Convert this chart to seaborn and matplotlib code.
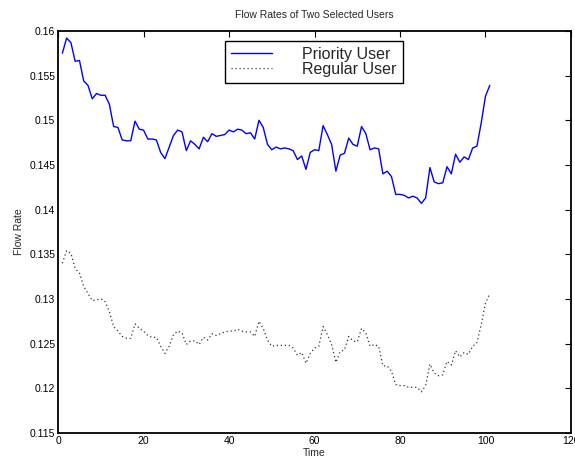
import numpy as np
import pandas as pd
import matplotlib
matplotlib.use("Agg")
import matplotlib.pyplot as plt
import seaborn as sns

# Time steps and flow rates for the two users
time = list(range(1, 102))
priority_user = [
    0.1575, 0.1592, 0.1587, 0.1566, 0.1567, 0.1544, 0.1539, 0.1524, 0.1530, 0.1528,
    0.1528, 0.1518, 0.1493, 0.1492, 0.1478, 0.1477, 0.1477, 0.1499, 0.1490, 0.1489,
    0.1479, 0.1479, 0.1478, 0.1464, 0.1457, 0.1470, 0.1483, 0.1489, 0.1487, 0.1466,
    0.1477, 0.1473, 0.1468, 0.1481, 0.1476, 0.1485, 0.1482, 0.1483, 0.1484, 0.1489,
    0.1487, 0.1490, 0.1489, 0.1485, 0.1486, 0.1479, 0.1500, 0.1492, 0.1473, 0.1467,
    0.1470, 0.1468, 0.1469, 0.1468, 0.1466, 0.1456, 0.1460, 0.1445, 0.1464, 0.1467,
    0.1466, 0.1494, 0.1484, 0.1473, 0.1443, 0.1461, 0.1463, 0.1480, 0.1473, 0.1471,
    0.1493, 0.1485, 0.1467, 0.1469, 0.1468, 0.1440, 0.1443, 0.1437, 0.1417, 0.1417,
    0.1416, 0.1413, 0.1415, 0.1413, 0.1407, 0.1413, 0.1447, 0.1431, 0.1429, 0.1430,
    0.1448, 0.1440, 0.1462, 0.1453, 0.1459, 0.1456, 0.1469, 0.1471, 0.1497, 0.1527,
    0.1539,
]
regular_user = [
    0.1340, 0.1354, 0.1351, 0.1334, 0.1329, 0.1314, 0.1306, 0.1298, 0.1299, 0.1300,
    0.1297, 0.1286, 0.1269, 0.1264, 0.1258, 0.1256, 0.1256, 0.1272, 0.1267, 0.1264,
    0.1259, 0.1257, 0.1257, 0.1247, 0.1239, 0.1247, 0.1260, 0.1264, 0.1262, 0.1249,
    0.1253, 0.1253, 0.1249, 0.1257, 0.1254, 0.1261, 0.1259, 0.1261, 0.1263, 0.1264,
    0.1264, 0.1266, 0.1264, 0.1263, 0.1263, 0.1258, 0.1275, 0.1267, 0.1254, 0.1247,
    0.1248, 0.1248, 0.1248, 0.1248, 0.1245, 0.1237, 0.1240, 0.1228, 0.1239, 0.1245,
    0.1247, 0.1269, 0.1260, 0.1249, 0.1229, 0.1241, 0.1243, 0.1258, 0.1253, 0.1252,
    0.1267, 0.1262, 0.1247, 0.1249, 0.1247, 0.1225, 0.1225, 0.1219, 0.1204, 0.1203,
    0.1203, 0.1201, 0.1201, 0.1201, 0.1196, 0.1203, 0.1227, 0.1217, 0.1214, 0.1215,
    0.1230, 0.1226, 0.1242, 0.1235, 0.1240, 0.1238, 0.1247, 0.1251, 0.1271, 0.1295,
    0.1306,
]
x_ticks = [0, 20, 40, 60, 80, 100, 120]
y_ticks = [0.115, 0.12, 0.125, 0.13, 0.135, 0.14, 0.145, 0.15, 0.155, 0.16]
y_tick_labels = ["0.115", "0.12", "0.125", "0.13", "0.135", "0.14", "0.145", "0.15", "0.155", "0.16"]

sns.set_theme(style="white")
plt.rcParams["font.family"] = ["Liberation Sans", "DejaVu Sans"]

fig = plt.figure(figsize=(5.75, 4.62), dpi=100)
ax = fig.add_axes([0.101, 0.063, 0.892, 0.870])

df = pd.DataFrame({"Time": time, "Priority User": priority_user, "Regular User": regular_user})

sns.lineplot(data=df, x="Time", y="Priority User", ax=ax, color="#0000ff",
             linewidth=1.0, label="Priority User", estimator=None)
sns.lineplot(data=df, x="Time", y="Regular User", ax=ax, color="#333333",
             linewidth=0.9, linestyle=(0, (1, 2.2)), label="Regular User", estimator=None)

ax.set_xlim(0, 120)
ax.set_ylim(0.115, 0.16)
ax.set_xticks(x_ticks)
ax.set_xticklabels([str(v) for v in x_ticks])
ax.set_yticks(y_ticks)
ax.set_yticklabels(y_tick_labels)

ax.tick_params(axis="both", which="both", direction="in", length=4, width=0.8,
               top=True, right=True, labelsize=7.5, pad=2, colors="black")
for spine in ax.spines.values():
    spine.set_visible(True)
    spine.set_color("black")
    spine.set_linewidth(1.3)

ax.set_title("Flow Rates of Two Selected Users", fontsize=7.5, pad=9.5)
ax.set_xlabel("Time", fontsize=7.5, labelpad=2)
ax.set_ylabel("Flow Rate", fontsize=7.5, labelpad=4)

leg = ax.legend(loc="upper left", bbox_to_anchor=(0.391, 0.912),
                bbox_transform=fig.transFigure, borderaxespad=0,
                fontsize=11.5, frameon=True, fancybox=False, shadow=False,
                handlelength=2.55, handletextpad=1.9, borderpad=0.4,
                labelspacing=0.0)
leg.get_frame().set_edgecolor("black")
leg.get_frame().set_linewidth(1.0)
leg.get_frame().set_alpha(1)

fig.savefig("out.png", dpi=100)
